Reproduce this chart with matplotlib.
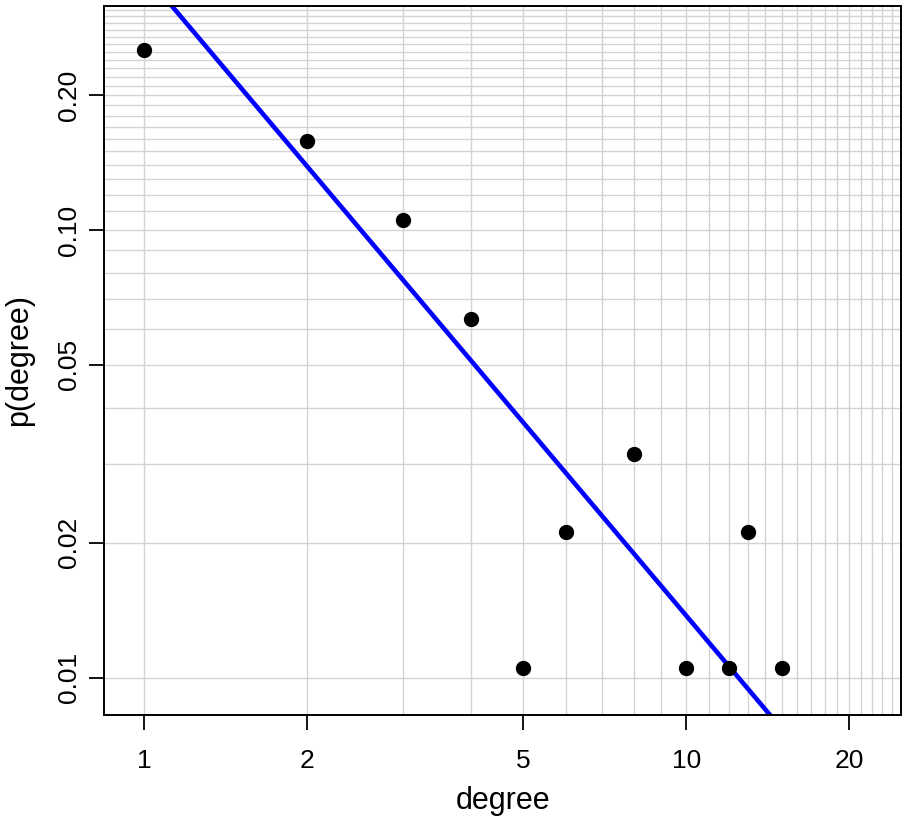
import matplotlib
matplotlib.use("Agg")
import matplotlib.pyplot as plt
import numpy as np
from matplotlib.ticker import FixedLocator, NullFormatter

plt.rcParams['font.family'] = ['Liberation Sans', 'DejaVu Sans']

# data
degree = [1, 2, 3, 4, 5, 6, 8, 10, 12, 13, 15]
p_degree = [0.2526, 0.1579, 0.1053, 0.0632, 0.0105, 0.0211, 0.0316, 0.0105, 0.0105, 0.0211, 0.0105]

# fitted power law line: log10(p) = fit_intercept + fit_slope * log10(k)
fit_intercept = -0.4264
fit_slope = -1.4353

x_ticks = [1, 2, 5, 10, 20]
x_tick_labels = ["1", "2", "5", "10", "20"]
y_ticks = [0.01, 0.02, 0.05, 0.10, 0.20]
y_tick_labels = ["0.01", "0.02", "0.05", "0.10", "0.20"]

x_grid = list(range(1, 26))
y_grid = [round(0.01 * i, 2) for i in range(1, 33)]

xlim = (0.844, 24.9)
ylim = (0.00825, 0.317)

fig = plt.figure(figsize=(9.08, 8.21), dpi=100)
W, H = 908, 821
l, r, t, b = 104.3, 901, 5.7, 715
ax = fig.add_axes([l / W, 1 - b / H, (r - l) / W, (b - t) / H])
ax.set_xscale('log')
ax.set_yscale('log')
ax.set_xlim(*xlim)
ax.set_ylim(*ylim)

for gx in x_grid:
    ax.axvline(gx, color='#D3D3D3', lw=1.0, zorder=1)
for gy in y_grid:
    ax.axhline(gy, color='#D3D3D3', lw=1.0, zorder=1)

xx = np.array(xlim)
ax.plot(xx, 10 ** (fit_intercept + fit_slope * np.log10(xx)), color='#0000FF', lw=3.3, zorder=3)
ax.plot(degree, p_degree, 'o', color='black', markersize=10, zorder=4)

ax.xaxis.set_major_locator(FixedLocator(x_ticks))
ax.xaxis.set_minor_locator(FixedLocator([]))
ax.set_xticklabels(x_tick_labels)
ax.yaxis.set_major_locator(FixedLocator(y_ticks))
ax.yaxis.set_minor_locator(FixedLocator([]))
ax.yaxis.set_minor_formatter(NullFormatter())
ax.set_yticklabels(y_tick_labels, rotation=90, va='center')

ax.tick_params(axis='both', which='major', direction='out', length=10.5, width=1.3,
               labelsize=19, colors='black')
ax.tick_params(axis='x', pad=14)
ax.tick_params(axis='y', pad=6)
for s in ax.spines.values():
    s.set_linewidth(1.4)
    s.set_zorder(5)

ax.set_xlabel('degree', fontsize=22)
ax.set_ylabel('p(degree)', fontsize=22)
ax.xaxis.set_label_coords(0.5, 1 - (786 - t) / (b - t))
ax.yaxis.set_label_coords(-(l - 34) / (r - l), 0.5)

fig.savefig('out.png', dpi=100)
